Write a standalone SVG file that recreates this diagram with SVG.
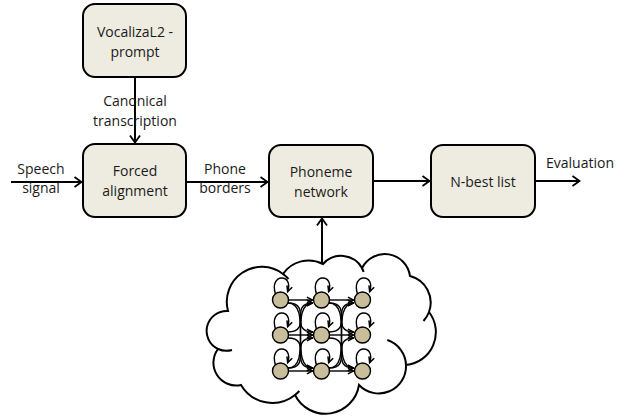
<svg xmlns="http://www.w3.org/2000/svg" xmlns:xlink="http://www.w3.org/1999/xlink" width="624" height="419" viewBox="0 0 624 419">
<style>
.box{fill:#EEECE1;stroke:#000;stroke-width:2}
.t{font-family:"Open Sans","Liberation Sans",sans-serif;font-size:14px;fill:#1a1a1a;text-anchor:middle}
.conn{fill:none;stroke:#000;stroke-width:2;marker-end:url(#ah)}
.cloud{fill:#fff;stroke:#000;stroke-width:2}
.tail{fill:none;stroke:#000;stroke-width:2}
.st{fill:#C8BE9B;stroke:#000;stroke-width:1.4}
.e{fill:none;stroke:#000;stroke-width:1.4;marker-end:url(#sh)}
</style>
<defs>
<marker id="ah" viewBox="0 0 10 12" refX="9" refY="6" markerWidth="10" markerHeight="12" markerUnits="userSpaceOnUse" orient="auto">
<path d="M1.5,1 L8.5,6 L1.5,11" fill="none" stroke="#000" stroke-width="1.8"/>
</marker>
<marker id="sh" viewBox="0 0 8 8" refX="7.5" refY="4" markerWidth="7.5" markerHeight="7.5" markerUnits="userSpaceOnUse" orient="auto">
<path d="M1,1 L7,4 L1,7" fill="none" stroke="#000" stroke-width="1.6"/>
</marker>
<path id="loop" class="e" d="M-5,-6 C-12,-27 14,-27 7,-8"/>
<g id="gap">
<path class="e" d="M288.5,300 L313,300"/>
<path class="e" d="M288.5,335 L313,335"/>
<path class="e" d="M288.5,371 L313,371"/>
<path class="e" d="M288,303 C313,303 288,332 313,332"/>
<path class="e" d="M288,303 C313,303 288,368 313,368"/>
<path class="e" d="M288,332 C313,332 288,303 313,303"/>
<path class="e" d="M288,338 C313,338 288,368 313,368"/>
<path class="e" d="M288,368 C313,368 288,303 313,303"/>
<path class="e" d="M288,368 C313,368 288,338 313,338"/>
</g>
</defs>

<g id="node-vocaliza">
<rect class="box" x="83" y="4" width="103" height="73" rx="12"/>
<text class="t" x="135" y="37">VocalizaL2 -</text>
<text class="t" x="135" y="57">prompt</text>
</g>

<g id="node-forced">
<rect class="box" x="83" y="144" width="103" height="73" rx="12"/>
<text class="t" x="135" y="176">Forced</text>
<text class="t" x="135" y="196">alignment</text>
</g>

<g id="node-phoneme">
<rect class="box" x="269" y="145" width="104" height="72" rx="12"/>
<text class="t" x="321" y="177">Phoneme</text>
<text class="t" x="321" y="197">network</text>
</g>

<g id="node-nbest">
<rect class="box" x="431" y="145" width="104" height="72" rx="12"/>
<text class="t" x="483" y="187">N-best list</text>
</g>

<g id="node-cloud">
<path class="cloud" d="M228,311 A35,35 0 0 1 283,274 A31,31 0 0 1 323,264 A24,24 0 0 1 362,268 A25.5,25.5 0 0 1 410,276 A27.5,27.5 0 0 1 429,312 A33,33 0 0 1 406,365 A27.3,27.3 0 0 1 359,385 A34,34 0 0 1 295,395 A36.4,36.4 0 0 1 241,385 A22.8,22.8 0 0 1 218,349 A20,20 0 0 1 228,311 Z"/>
<path class="tail" d="M283,274 A35,35 0 0 1 288.5,279"/>
<path class="tail" d="M362,268 A24,24 0 0 1 363.6,272"/>
<path class="tail" d="M429,312 A27.5,27.5 0 0 1 423.5,321"/>
<path class="tail" d="M387.3,340 A27.3,27.3 0 0 1 406,365"/>
<path class="tail" d="M299.3,391 A36.4,36.4 0 0 1 295,395"/>
<path class="tail" d="M232,350 A20,20 0 0 1 218,349"/>
<g id="states">
<circle class="st" cx="280.5" cy="300" r="8"/>
<circle class="st" cx="321.5" cy="300" r="8"/>
<circle class="st" cx="362.5" cy="300" r="8"/>
<circle class="st" cx="280.5" cy="335" r="8"/>
<circle class="st" cx="321.5" cy="335" r="8"/>
<circle class="st" cx="362.5" cy="335" r="8"/>
<circle class="st" cx="280.5" cy="371" r="8"/>
<circle class="st" cx="321.5" cy="371" r="8"/>
<circle class="st" cx="362.5" cy="371" r="8"/>
</g>
<g id="self-loops">
<use xlink:href="#loop" transform="translate(280.5,300)"/>
<use xlink:href="#loop" transform="translate(321.5,300)"/>
<use xlink:href="#loop" transform="translate(362.5,300)"/>
<use xlink:href="#loop" transform="translate(280.5,335)"/>
<use xlink:href="#loop" transform="translate(321.5,335)"/>
<use xlink:href="#loop" transform="translate(362.5,335)"/>
<use xlink:href="#loop" transform="translate(280.5,371)"/>
<use xlink:href="#loop" transform="translate(321.5,371)"/>
<use xlink:href="#loop" transform="translate(362.5,371)"/>
</g>
<g id="transitions">
<use xlink:href="#gap"/>
<use xlink:href="#gap" transform="translate(41,0)"/>
</g>
</g>

<g id="connectors">
<path class="conn" d="M135,77 L135,143"/>
<path class="conn" d="M11,182 L82,182"/>
<path class="conn" d="M186,182 L268,182"/>
<path class="conn" d="M373,181 L430,181"/>
<path class="conn" d="M535,181 L580,181"/>
<path class="conn" d="M322,263 L322,218"/>
<text class="t" x="135" y="106">Canonical</text>
<text class="t" x="135" y="126">transcription</text>
<text class="t" x="41" y="174">Speech</text>
<text class="t" x="41" y="193">signal</text>
<text class="t" x="225" y="174">Phone</text>
<text class="t" x="225" y="193">borders</text>
<text class="t" x="580" y="168">Evaluation</text>
</g>
</svg>
